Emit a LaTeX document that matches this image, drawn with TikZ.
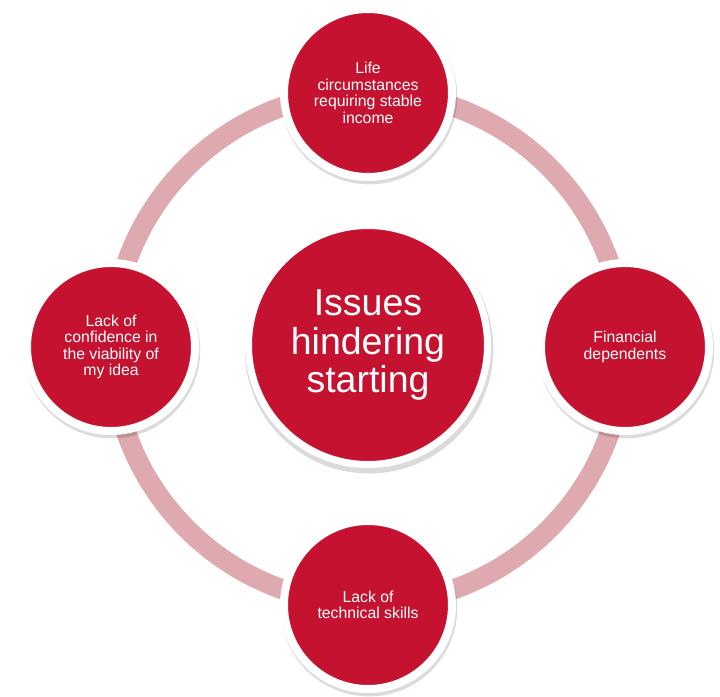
\documentclass[tikz,border=0pt]{standalone}
\usepackage{fontspec}
\setmainfont{Liberation Sans}
\usetikzlibrary{shadows}
\definecolor{hubred}{HTML}{C41230}
\definecolor{ringpink}{HTML}{DEA9AF}
\tikzset{
  ringline/.style={draw=ringpink, line width=20pt},
  satellite/.style={circle, fill=hubred, draw=white, line width=8pt, minimum size=168pt, inner sep=0pt,
    text=white, align=center, font=\fontsize{15.8}{16.6}\selectfont,
    drop shadow={shadow xshift=1pt, shadow yshift=-3pt, shadow scale=1.05, opacity=0.14, fill=black}},
  hub/.style={circle, fill=hubred, draw=white, line width=7pt, minimum size=239pt, inner sep=0pt,
    text=white, align=center, font=\fontsize{37.5}{38.5}\selectfont,
    drop shadow={shadow xshift=1pt, shadow yshift=-4pt, shadow scale=1.04, opacity=0.14, fill=black}}
}
\begin{document}
\begin{tikzpicture}[x=1pt,y=-1pt]
\useasboundingbox (0,0) rectangle (720,696);
\coordinate (ringc) at (368,348);
\draw[ringline] (ringc) circle[radius=256pt];
\node[hub] (centre) at (368,345) {Issues\\hindering\\starting};
\node[satellite] (top) at (368,93) {Life\\circumstances\\requiring stable\\income};
\node[satellite] (right) at (625,347) {Financial\\dependents};
\node[satellite] (bottom) at (368,605) {Lack of\\technical skills};
\node[satellite] (left) at (111,347) {Lack of\\confidence in\\the viability of\\my idea};
\end{tikzpicture}
\end{document}
